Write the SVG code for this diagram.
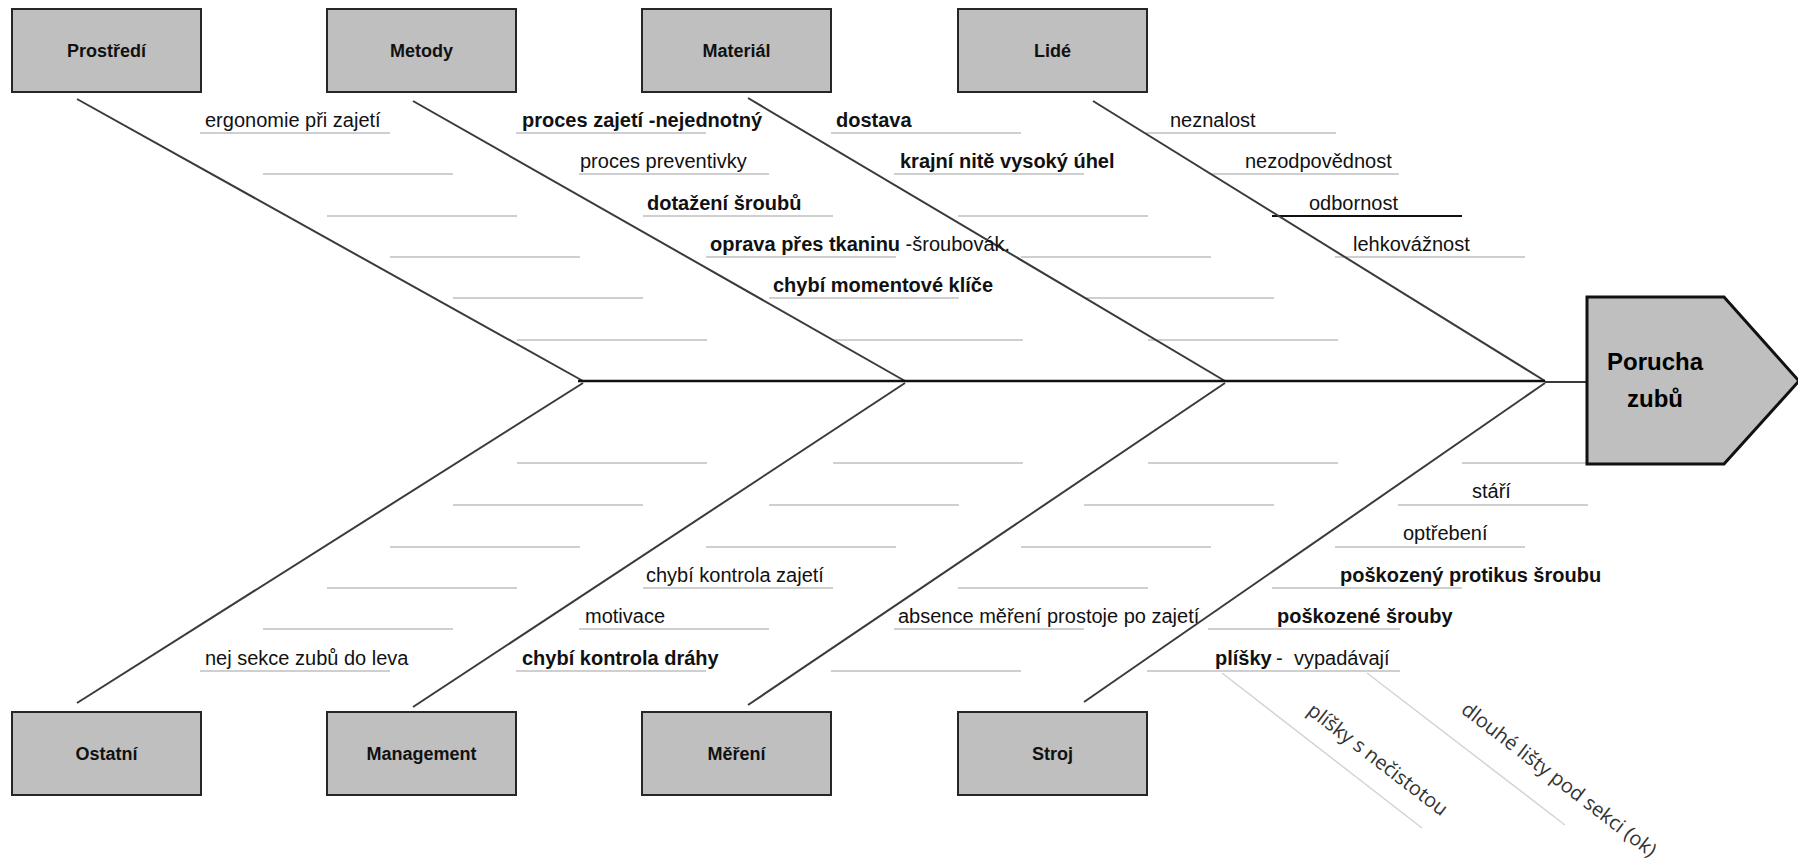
<svg xmlns="http://www.w3.org/2000/svg" width="1798" height="861" viewBox="0 0 1798 861">
<style>
.box{fill:#bfbfbf;stroke:#262626;stroke-width:2}
.head{fill:#bfbfbf;stroke:#111;stroke-width:3;stroke-linejoin:miter}
.bl{font-family:"Liberation Sans",Arial,sans-serif;font-weight:bold;font-size:18px;fill:#111;text-anchor:middle}
.ht{font-family:"Liberation Sans",Arial,sans-serif;font-weight:bold;font-size:24px;fill:#000}
.t{font-family:"Liberation Sans",Arial,sans-serif;font-size:20px;fill:#111}
.b{font-weight:bold}
.rt{font-family:"Open Sans","Noto Sans",sans-serif;font-size:20px;fill:#333}
.bone{stroke:#3a3a3a;stroke-width:2;fill:none}
.spine{stroke:#111;stroke-width:2.5;fill:none}
.sub{stroke:#cfcfcf;stroke-width:2;fill:none}
.subk{stroke:#111;stroke-width:2;fill:none}
.diag{stroke:#d4d4d4;stroke-width:1.5;fill:none}
</style>

<g id="connectors">
  <g id="sub-lines">
    <!-- Prostredi -->
    <line class="sub" x1="200" y1="133" x2="390" y2="133"/>
    <line class="sub" x1="263" y1="174" x2="453" y2="174"/>
    <line class="sub" x1="327" y1="216" x2="517" y2="216"/>
    <line class="sub" x1="390" y1="257" x2="580" y2="257"/>
    <line class="sub" x1="453" y1="298" x2="643" y2="298"/>
    <line class="sub" x1="517" y1="340" x2="707" y2="340"/>
    <!-- Metody -->
    <line class="sub" x1="516" y1="133" x2="706" y2="133"/>
    <line class="sub" x1="579" y1="174" x2="769" y2="174"/>
    <line class="sub" x1="643" y1="216" x2="833" y2="216"/>
    <line class="sub" x1="706" y1="257" x2="896" y2="257"/>
    <line class="sub" x1="769" y1="298" x2="959" y2="298"/>
    <line class="sub" x1="833" y1="340" x2="1023" y2="340"/>
    <!-- Material -->
    <line class="sub" x1="831" y1="133" x2="1021" y2="133"/>
    <line class="sub" x1="894" y1="174" x2="1084" y2="174"/>
    <line class="sub" x1="958" y1="216" x2="1148" y2="216"/>
    <line class="sub" x1="1021" y1="257" x2="1211" y2="257"/>
    <line class="sub" x1="1084" y1="298" x2="1274" y2="298"/>
    <line class="sub" x1="1148" y1="340" x2="1338" y2="340"/>
    <!-- Lide -->
    <line class="sub" x1="1146" y1="133" x2="1336" y2="133"/>
    <line class="sub" x1="1209" y1="174" x2="1399" y2="174"/>
    <line class="subk" x1="1272" y1="216" x2="1462" y2="216"/>
    <line class="sub" x1="1335" y1="257" x2="1525" y2="257"/>
    <!-- Ostatni -->
    <line class="sub" x1="517" y1="463" x2="707" y2="463"/>
    <line class="sub" x1="453" y1="505" x2="643" y2="505"/>
    <line class="sub" x1="390" y1="547" x2="580" y2="547"/>
    <line class="sub" x1="327" y1="588" x2="517" y2="588"/>
    <line class="sub" x1="263" y1="629" x2="453" y2="629"/>
    <line class="sub" x1="200" y1="671" x2="390" y2="671"/>
    <!-- Management -->
    <line class="sub" x1="833" y1="463" x2="1023" y2="463"/>
    <line class="sub" x1="769" y1="505" x2="959" y2="505"/>
    <line class="sub" x1="706" y1="547" x2="896" y2="547"/>
    <line class="sub" x1="643" y1="588" x2="833" y2="588"/>
    <line class="sub" x1="579" y1="629" x2="769" y2="629"/>
    <line class="sub" x1="516" y1="671" x2="706" y2="671"/>
    <!-- Mereni -->
    <line class="sub" x1="1148" y1="463" x2="1338" y2="463"/>
    <line class="sub" x1="1084" y1="505" x2="1274" y2="505"/>
    <line class="sub" x1="1021" y1="547" x2="1211" y2="547"/>
    <line class="sub" x1="958" y1="588" x2="1148" y2="588"/>
    <line class="sub" x1="894" y1="629" x2="1084" y2="629"/>
    <line class="sub" x1="831" y1="671" x2="1021" y2="671"/>
    <!-- Stroj -->
    <line class="sub" x1="1462" y1="463" x2="1620" y2="463"/>
    <line class="sub" x1="1398" y1="505" x2="1588" y2="505"/>
    <line class="sub" x1="1335" y1="547" x2="1525" y2="547"/>
    <line class="sub" x1="1272" y1="588" x2="1462" y2="588"/>
    <line class="sub" x1="1208" y1="629" x2="1400" y2="629"/>
    <line class="sub" x1="1147" y1="671" x2="1400" y2="671"/>
    <!-- diagonal sub-sub lines -->
    <line class="diag" x1="1222" y1="673" x2="1422" y2="828"/>
    <line class="diag" x1="1367" y1="673" x2="1565" y2="825"/>
  </g>
  <!-- main bones -->
  <line class="bone" x1="77" y1="99" x2="583" y2="381"/>
  <line class="bone" x1="413" y1="101" x2="905" y2="381"/>
  <line class="bone" x1="748" y1="98" x2="1225" y2="381"/>
  <line class="bone" x1="1093" y1="101" x2="1545" y2="381"/>
  <line class="bone" x1="77" y1="703" x2="583" y2="383"/>
  <line class="bone" x1="413" y1="707" x2="905" y2="383"/>
  <line class="bone" x1="748" y1="705" x2="1225" y2="383"/>
  <line class="bone" x1="1084" y1="702" x2="1545" y2="383"/>
  <!-- spine -->
  <line class="spine" x1="578" y1="381" x2="1545" y2="381"/>
  <line class="bone" x1="1545" y1="382" x2="1590" y2="382"/>
</g>

<g id="node-prostredi"><rect class="box" x="12" y="9" width="189" height="83"/><text class="bl" x="106.5" y="57">Prostředí</text></g>
<g id="node-metody"><rect class="box" x="327" y="9" width="189" height="83"/><text class="bl" x="421.5" y="57">Metody</text></g>
<g id="node-material"><rect class="box" x="642" y="9" width="189" height="83"/><text class="bl" x="736.5" y="57">Materiál</text></g>
<g id="node-lide"><rect class="box" x="958" y="9" width="189" height="83"/><text class="bl" x="1052.5" y="57">Lidé</text></g>
<g id="node-ostatni"><rect class="box" x="12" y="712" width="189" height="83"/><text class="bl" x="106.5" y="760">Ostatní</text></g>
<g id="node-management"><rect class="box" x="327" y="712" width="189" height="83"/><text class="bl" x="421.5" y="760">Management</text></g>
<g id="node-mereni"><rect class="box" x="642" y="712" width="189" height="83"/><text class="bl" x="736.5" y="760">Měření</text></g>
<g id="node-stroj"><rect class="box" x="958" y="712" width="189" height="83"/><text class="bl" x="1052.5" y="760">Stroj</text></g>

<g id="node-porucha">
  <polygon class="head" points="1587,297 1724,297 1799,381 1724,464 1587,464"/>
  <text class="ht" x="1607" y="370">Porucha</text>
  <text class="ht" x="1627" y="407">zubů</text>
</g>

<g id="causes">
  <text class="t" x="205" y="127">ergonomie při zajetí</text>
  <text class="t b" x="522" y="127">proces zajetí -nejednotný</text>
  <text class="t" x="580" y="168">proces preventivky</text>
  <text class="t b" x="647" y="210">dotažení šroubů</text>
  <text class="t" x="710" y="251"><tspan class="b">oprava přes tkaninu</tspan> -šroubovák.</text>
  <text class="t b" x="773" y="292">chybí momentové klíče</text>
  <text class="t b" x="836" y="127">dostava</text>
  <text class="t b" x="900" y="168">krajní nitě vysoký úhel</text>
  <text class="t" x="1170" y="127">neznalost</text>
  <text class="t" x="1245" y="168">nezodpovědnost</text>
  <text class="t" x="1309" y="210">odbornost</text>
  <text class="t" x="1353" y="251">lehkovážnost</text>

  <text class="t" x="205" y="665">nej sekce zubů do leva</text>
  <text class="t" x="646" y="582">chybí kontrola zajetí</text>
  <text class="t" x="585" y="623">motivace</text>
  <text class="t b" x="522" y="665">chybí kontrola dráhy</text>
  <text class="t" x="898" y="623">absence měření prostoje po zajetí</text>
  <text class="t" x="1472" y="498">stáří</text>
  <text class="t" x="1403" y="540">optřebení</text>
  <text class="t b" x="1340" y="582">poškozený protikus šroubu</text>
  <text class="t b" x="1277" y="623">poškozené šrouby</text>
  <text class="t" y="665"><tspan class="b" x="1215">plíšky</tspan><tspan x="1276">-</tspan><tspan x="1294">vypadávají</tspan></text>

  <text class="rt" transform="translate(1306,713) rotate(37.5)">plíšky s nečistotou</text>
  <text class="rt" transform="translate(1460,712) rotate(37.5)">dlouhé lišty pod sekci (ok)</text>
</g>
</svg>
